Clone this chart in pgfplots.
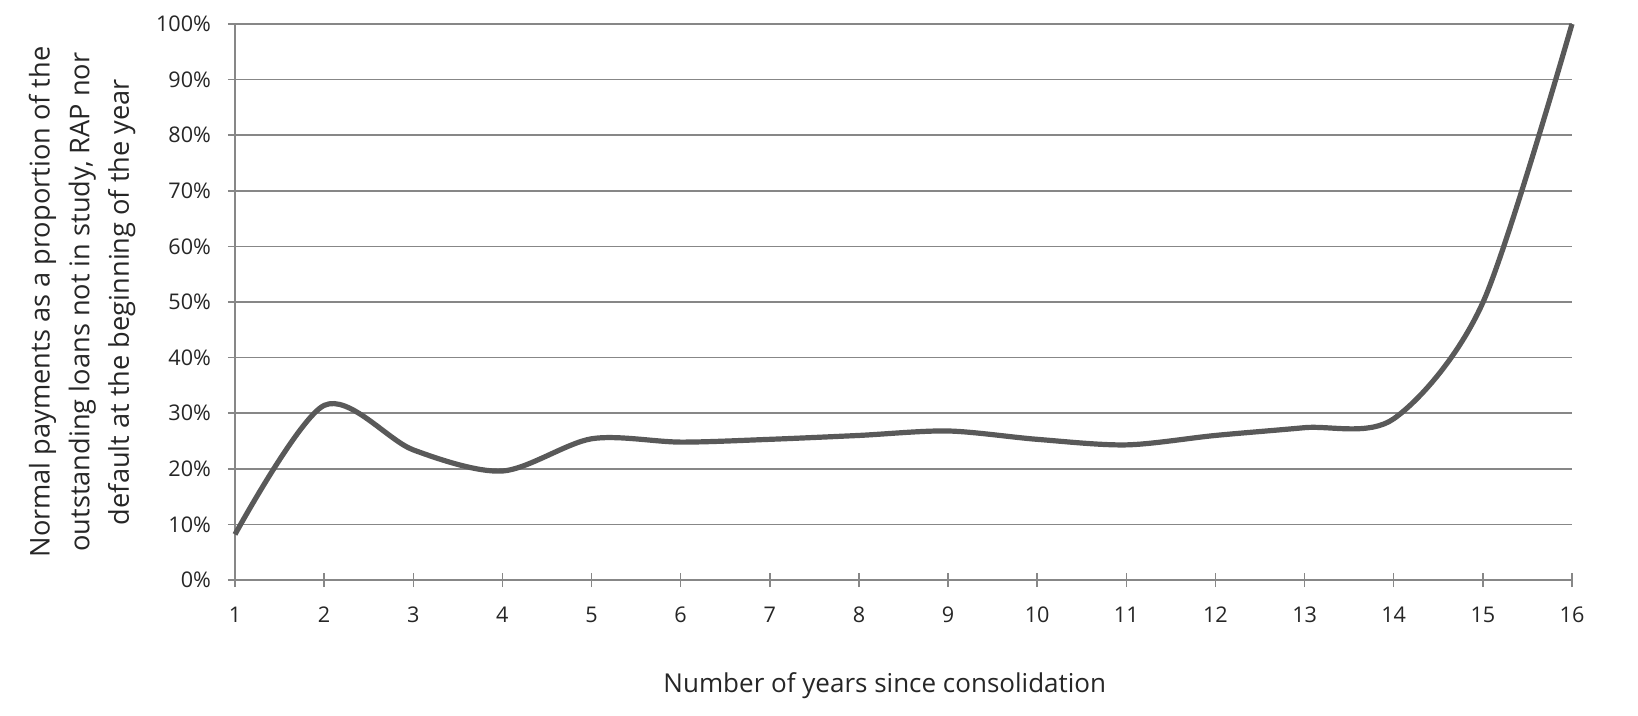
\documentclass[border=0pt]{standalone}
\usepackage{pgfplots}
\pgfplotsset{compat=1.18}
\usepackage{fontspec}
\setmainfont{Open Sans}
\definecolor{linegray}{HTML}{595959}
\definecolor{gridgray}{HTML}{878787}
\begin{document}
\begin{tikzpicture}
\path[use as bounding box] (-117.5bp,-68bp) rectangle (701.5bp,290bp);
\begin{axis}[
  at={(0,0)}, anchor=south west,
  scale only axis, width=668.5bp, height=278bp,
  xmin=1, xmax=16, ymin=0, ymax=100,
  xtick={1,...,16}, ytick={0,10,...,100},
  yticklabel={\pgfmathprintnumber{\tick}\%},
  /pgf/number format/assume math mode=true,
  axis x line*=bottom, axis y line*=left,
  axis line style={gridgray, line width=0.75bp},
  ymajorgrids, grid style={gridgray, line width=0.75bp},
  tick align=center, major tick length=7bp,
  xtick pos=bottom, ytick pos=left,
  tick style={gridgray, line width=0.75bp},
  tick label style={font=\fontsize{10.8bp}{13bp}\selectfont, text=black!85},
  yticklabel style={xshift=-5bp},
  xticklabel style={yshift=-6.5bp},
  xlabel={Number of years since consolidation},
  xlabel style={font=\fontsize{13bp}{16bp}\selectfont, text=black!85, at={(axis description cs:0.486,-0.19)}, anchor=center},
  ylabel={Normal payments as a proportion of the\\outstanding loans not in study, RAP nor\\default at the beginning of the year},
  ylabel style={font=\fontsize{13.6bp}{19.8bp}\selectfont, text=black!85, at={(axis description cs:-0.1143,0.5)}, anchor=center, align=center},
  clip=false,
]
\addplot[linegray, line width=2.6bp, smooth, tension=0.5] coordinates {
(1,8.2) (2,31.4) (3,23.4) (4,19.6) (5,25.4) (6,24.8) (7,25.3) (8,26.0)
(9,26.8) (10,25.3) (11,24.3) (12,26.0) (13,27.4) (14,29.0) (15,49.9) (16,100)
};
\end{axis}
\end{tikzpicture}
\end{document}
